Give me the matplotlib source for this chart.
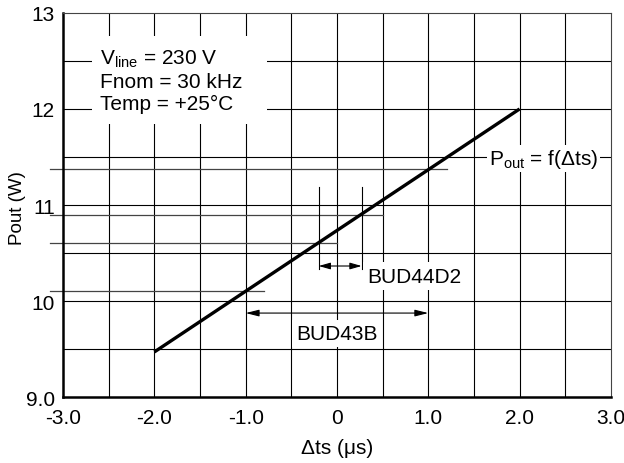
import matplotlib
matplotlib.use("Agg")
import matplotlib.pyplot as plt
from matplotlib.patches import Rectangle
import numpy as np

plt.rcParams["font.family"] = ["Liberation Sans", "DejaVu Sans"]
plt.rcParams["mathtext.fontset"] = "custom"
plt.rcParams["mathtext.rm"] = "Liberation Sans"
plt.rcParams["mathtext.it"] = "Liberation Sans"

# ------------------------------
# data
# ------------------------------
dts = [-2.0, 2.0]            # delta ts (us)
pout = [9.47, 12.0]          # output power (W)

# short reference lines (level, right end in us)
ref_levels = [11.37, 10.9, 10.6, 10.1]
ref_ends = [1.2, 0.5, 0.0, -0.8]

# BUD44D2 window
bud44_x = [-0.2, 0.27]
bud44_top = 11.19
bud44_bottom = 10.33
bud44_arrow_y = 10.365

# BUD43B window
bud43_x = [-1.0, 1.0]
bud43_arrow_y = 9.875

x_ticks = [-3.0, -2.0, -1.0, 0.0, 1.0, 2.0, 3.0]
x_labels = ["-3.0", "-2.0", "-1.0", "0", "1.0", "2.0", "3.0"]
y_ticks = [9, 10, 11, 12, 13]
y_labels = ["9.0", "10", "11", "12", "13"]

FS = 15

fig = plt.figure(figsize=(6.24, 4.64), dpi=100)
ax = fig.add_axes([0.101, 0.142, 0.878, 0.828])
ax.set_xlim(-3, 3)
ax.set_ylim(9, 13)

# grid every 0.5
for gx in np.arange(-2.5, 3.0, 0.5):
    ax.axvline(gx, color="black", lw=0.8, zorder=1)
for gy in np.arange(9.5, 13.0, 0.5):
    ax.axhline(gy, color="black", lw=0.8, zorder=1)

# reference levels, starting left of the axis
for lvl, end in zip(ref_levels, ref_ends):
    ax.plot([-3.14, end], [lvl, lvl], color="#444444", lw=0.9,
            clip_on=False, zorder=2)

# BUD44D2 verticals and arrow
for bx in bud44_x:
    ax.plot([bx, bx], [bud44_bottom, bud44_top], color="black", lw=0.8, zorder=2)
ax.annotate("", xy=(bud44_x[0], bud44_arrow_y), xytext=(bud44_x[1], bud44_arrow_y),
            arrowprops=dict(arrowstyle="<|-|>,head_length=0.7,head_width=0.2",
                            color="black", lw=0.8, shrinkA=0, shrinkB=0),
            zorder=3)

# BUD43B arrow
ax.annotate("", xy=(bud43_x[0], bud43_arrow_y), xytext=(bud43_x[1], bud43_arrow_y),
            arrowprops=dict(arrowstyle="<|-|>,head_length=0.8,head_width=0.2",
                            color="black", lw=0.8, shrinkA=0, shrinkB=0),
            zorder=3)

# main curve
ax.plot(dts, pout, color="black", lw=2.4, solid_capstyle="butt", zorder=4)

# labels with white backgrounds
box = dict(facecolor="white", edgecolor="none", boxstyle="square,pad=0.2")
ax.text(0.85, 10.26, "BUD44D2", fontsize=FS, ha="center", va="center",
        bbox=box, zorder=5)
ax.text(0.0, 9.66, "BUD43B", fontsize=FS, ha="center", va="center",
        bbox=box, zorder=5)
ax.text(2.26, 11.48, r"P$_{\mathrm{out}}$ = f($\Delta$ts)", fontsize=FS,
        ha="center", va="center",
        bbox=dict(facecolor="white", edgecolor="none", boxstyle="square,pad=0.1"),
        zorder=5)

# conditions block on a white panel
ax.add_patch(Rectangle((-2.68, 11.84), 1.91, 0.92, facecolor="white",
                       edgecolor="none", zorder=4.5))
ax.text(-2.59, 12.3,
        "V$_{\\mathrm{line}}$ = 230 V\nFnom = 30 kHz\nTemp = +25\u00b0C",
        fontsize=FS, ha="left", va="center", linespacing=1.2, zorder=5)

# spines: heavy left/bottom, light top/right
for side in ["left", "bottom"]:
    ax.spines[side].set_linewidth(1.8)
for side in ["top", "right"]:
    ax.spines[side].set_linewidth(0.8)
    ax.spines[side].set_color("#444444")

ax.set_xticks(x_ticks)
ax.set_xticklabels(x_labels, fontsize=FS)
ax.set_yticks(y_ticks)
ax.set_yticklabels(y_labels, fontsize=FS)
ax.tick_params(axis="x", length=0, pad=8)
ax.tick_params(axis="y", length=0, pad=6)

ax.set_xlabel("\u0394ts (\u03bcs)", fontsize=FS, labelpad=8)
ax.set_ylabel("Pout (W)", fontsize=13.5)
ax.yaxis.set_label_coords(-0.067, 0.495)

fig.savefig("out.png", dpi=100)
